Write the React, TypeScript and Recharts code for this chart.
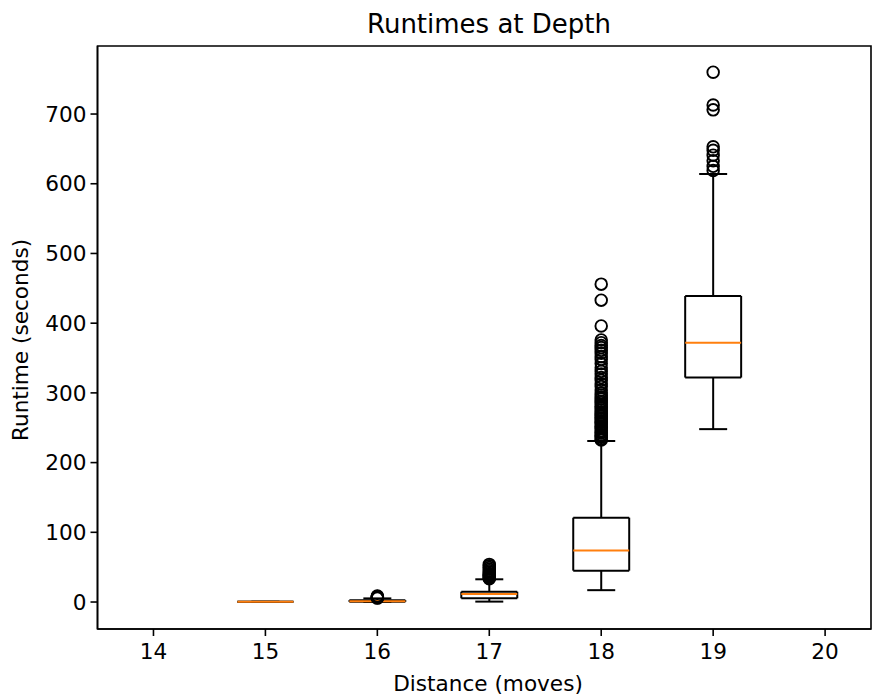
import {
  ComposedChart,
  XAxis,
  YAxis,
  Scatter,
  ReferenceArea,
  ReferenceLine,
} from "recharts";

// box positions (distance in moves)
const positions = [15, 16, 17, 18, 19];
// five-number summaries (seconds)
const lowWhisker = [0.3, 0, 0.6, 17, 248];
const q1 = [0.3, 0.4, 5.3, 45, 322];
const medians = [0.3, 1.2, 11.5, 74, 372];
const q3 = [0.3, 2.6, 14.8, 121, 439];
const highWhisker = [0.3, 5.2, 32.6, 231, 614];

// fliers per box
const outliers15: number[] = [];
const outliers16 = [5.6, 6.1, 6.7, 7.2, 7.9, 8.6];
const outliers17 = [33.5, 34.5, 35.5, 36.8, 38, 39.5, 41, 43, 45, 47, 49.5, 52, 54];
const outliers18 = [
  232.5, 234, 236.5, 238, 240, 242.5, 244, 246, 249, 251, 252.5, 255, 257.5, 259, 262,
  264, 266.5, 268, 271, 273, 275.5, 278, 280, 283, 286, 288, 291.5, 294, 297, 300,
  304, 309, 313, 318, 322, 327, 331, 336, 342, 348, 352, 357, 361, 365, 368, 372, 376,
  396, 433, 456,
];
const outliers19 = [619, 625, 633, 641, 648, 653, 706, 713, 760];

const xTicks = [14, 15, 16, 17, 18, 19, 20];
const yTicks = [0, 100, 200, 300, 400, 500, 600, 700];

const xDomain: [number, number] = [13.5, 20.41];
const yDomain: [number, number] = [-38.7, 797.6];

const outlierGroups = [outliers15, outliers16, outliers17, outliers18, outliers19];
const flierData = outlierGroups.flatMap((vals, i) =>
  vals.map((v) => ({ x: positions[i], y: v }))
);

const FONT = "DejaVu Sans";
const BOX_HALF = 0.25;
const CAP_HALF = 0.125;
const LW = 2;

const FlierShape = (props: any) => (
  <circle cx={props.cx} cy={props.cy} r={5.8} fill="none" stroke="#000" strokeWidth={1.9} />
);

// one straight piece of a box plot, through the chart scales
const seg = (key: string, x1: number, y1: number, x2: number, y2: number, color = "#000") => (
  <ReferenceLine
    key={key}
    segment={[{ x: x1, y: y1 }, { x: x2, y: y2 }]}
    stroke={color}
    strokeWidth={LW}
    ifOverflow="visible"
  />
);

function App() {
  const tickStyle = { fill: "#000", fontSize: 21.6, fontFamily: FONT };

  return (
    <div style={{ position: "absolute", left: 0, top: 0, width: 872, height: 700, background: "#fff" }}>
      <ComposedChart
        width={872}
        height={700}
        margin={{ top: 46, right: 1, bottom: 0, left: 0 }}
      >
        <XAxis
          type="number"
          dataKey="x"
          domain={xDomain}
          ticks={xTicks}
          allowDataOverflow
          height={71}
          tickSize={7}
          tickMargin={8}
          tick={tickStyle}
          tickLine={{ stroke: "#000", strokeWidth: 1.6 }}
          axisLine={{ stroke: "#000", strokeWidth: 1.6 }}
        />
        <YAxis
          type="number"
          dataKey="y"
          domain={yDomain}
          ticks={yTicks}
          allowDataOverflow
          width={97.5}
          tickSize={7}
          tickMargin={4}
          tick={tickStyle}
          tickLine={{ stroke: "#000", strokeWidth: 1.6 }}
          axisLine={{ stroke: "#000", strokeWidth: 1.6 }}
        />

        {/* frame, like matplotlib spines */}
        <ReferenceArea
          x1={xDomain[0]}
          x2={xDomain[1]}
          y1={yDomain[0]}
          y2={yDomain[1]}
          fill="none"
          stroke="#000"
          strokeWidth={1.6}
          ifOverflow="visible"
        />

        {/* boxes */}
        {positions.map((p, i) => [
          seg(`bl-${p}`, p - BOX_HALF, q1[i], p - BOX_HALF, q3[i]),
          seg(`br-${p}`, p + BOX_HALF, q1[i], p + BOX_HALF, q3[i]),
          seg(`bb-${p}`, p - BOX_HALF, q1[i], p + BOX_HALF, q1[i]),
          seg(`bt-${p}`, p - BOX_HALF, q3[i], p + BOX_HALF, q3[i]),
        ])}
        {/* whiskers and caps */}
        {positions.map((p, i) => [
          seg(`wlo-${p}`, p, q1[i], p, lowWhisker[i]),
          seg(`whi-${p}`, p, q3[i], p, highWhisker[i]),
          seg(`clo-${p}`, p - CAP_HALF, lowWhisker[i], p + CAP_HALF, lowWhisker[i]),
          seg(`chi-${p}`, p - CAP_HALF, highWhisker[i], p + CAP_HALF, highWhisker[i]),
        ])}
        {/* medians */}
        {positions.map((p, i) =>
          seg(`med-${p}`, p - BOX_HALF, medians[i], p + BOX_HALF, medians[i], "#ff7f0e")
        )}

        <Scatter data={flierData} shape={FlierShape} isAnimationActive={false} />
      </ComposedChart>

      <svg
        width={872}
        height={700}
        style={{ position: "absolute", left: 0, top: 0, pointerEvents: "none" }}
      >
        <text x={489} y={33} textAnchor="middle" fontSize={26} fontFamily={FONT} fill="#000">
          Runtimes at Depth
        </text>
        <text x={488} y={691} textAnchor="middle" fontSize={21.6} fontFamily={FONT} fill="#000">
          Distance (moves)
        </text>
        <text
          transform="translate(28,340) rotate(-90)"
          textAnchor="middle"
          fontSize={21.6}
          fontFamily={FONT}
          fill="#000"
        >
          Runtime (seconds)
        </text>
      </svg>
    </div>
  );
}

export default App;
